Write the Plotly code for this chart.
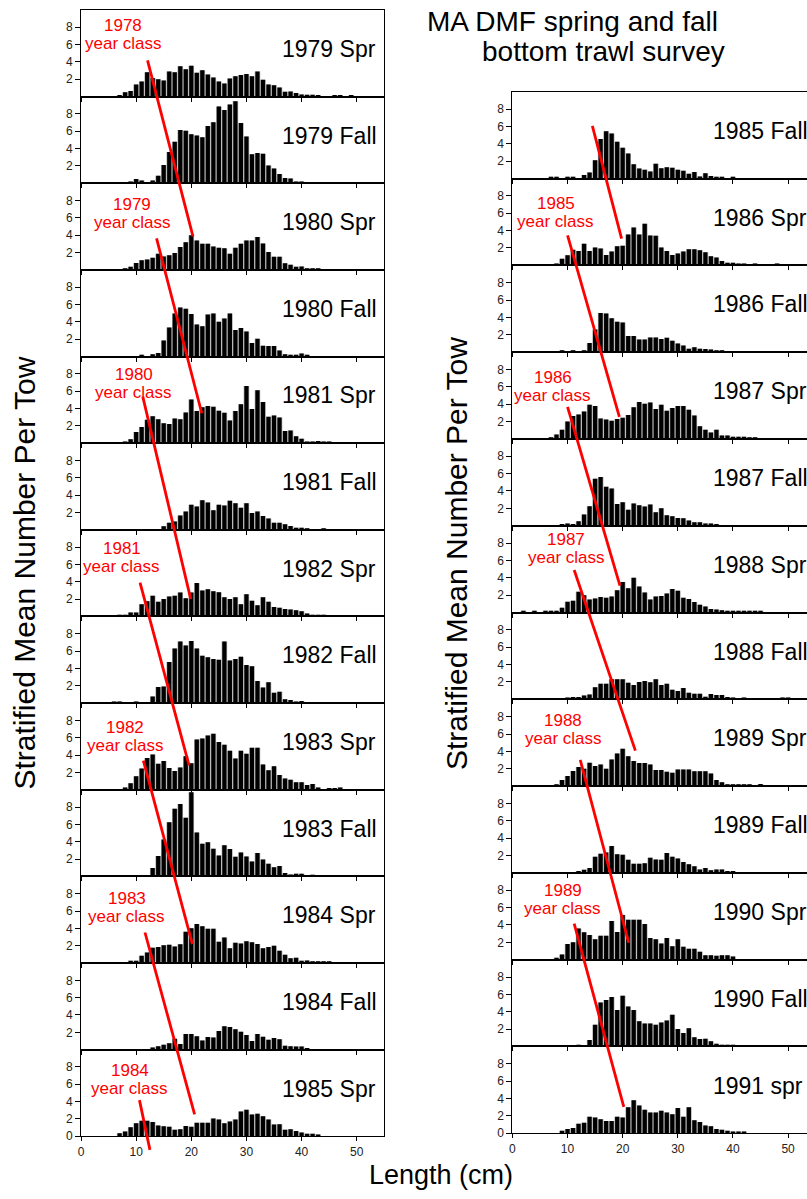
import plotly.graph_objects as go

W, H = 807, 1199

# ---------------- data ----------------
left_labels = ["1979 Spr", "1979 Fall", "1980 Spr", "1980 Fall", "1981 Spr", "1981 Fall",
               "1982 Spr", "1982 Fall", "1983 Spr", "1983 Fall", "1984 Spr", "1984 Fall", "1985 Spr"]
right_labels = ["1985 Fall", "1986 Spr", "1986 Fall", "1987 Spr", "1987 Fall", "1988 Spr",
                "1988 Fall", "1989 Spr", "1989 Fall", "1990 Spr", "1990 Fall", "1991 spr"]

# each series: first length class (cm), then values for consecutive 1-cm classes
spr1979 = (7, [0.15, 0.5, 0.65, 1.4, 1.75, 2.8, 2.15, 2.0, 1.85, 2.9, 2.8, 3.5, 3.15, 3.55, 2.75, 3.05, 2.55,
               2.2, 1.75, 1.5, 2.1, 2.35, 2.5, 2.6, 2.35, 2.9, 1.95, 1.4, 1.3, 1.05, 0.55, 0.6, 0.4, 0.25,
               0.2, 0.2, 0.15, 0.05, 0, 0.1, 0.1, 0, 0.1])
fall1979 = (9, [0.2, 0.5, 0.3, 0, 0.3, 0.85, 2.1, 3.6, 4.8, 6.15, 6.05, 5.65, 5.5, 5.3, 6.6, 7.05, 8.85, 8.45,
                9.1, 9.45, 6.95, 5.4, 3.35, 3.5, 3.4, 2.05, 1.7, 1.05, 0.6, 0.55, 0.15, 0.15])
spr1980 = (8, [0.2, 0.35, 0.8, 1.1, 1.2, 1.4, 1.85, 1.55, 1.7, 1.95, 2.65, 3.2, 4.0, 3.4, 3.0, 3.0, 2.7, 2.55,
               2.5, 1.85, 2.55, 3.0, 3.4, 3.4, 3.8, 3.05, 2.05, 1.5, 1.5, 0.75, 0.6, 0.35, 0.4, 0.2, 0.15, 0.1])
fall1980 = (11, [0.1, 0, 0.25, 0.4, 1.85, 3.35, 4.95, 5.65, 5.5, 4.9, 3.7, 3.5, 4.85, 4.95, 4.0, 4.4, 4.95,
                 3.05, 3.3, 2.9, 1.55, 2.05, 1.25, 1.2, 1.2, 0.7, 0.25, 0.15, 0.15, 0.35, 0.15])
spr1981 = (8, [0.1, 0.45, 1.3, 1.85, 2.7, 3.1, 2.75, 2.3, 2.2, 2.85, 2.75, 3.55, 5.05, 3.7, 4.15, 4.3, 4.2,
               3.75, 3.5, 2.6, 3.7, 4.5, 6.6, 3.95, 6.1, 4.75, 3.05, 3.2, 2.95, 1.4, 1.45, 0.8, 0.5, 0.1,
               0.1, 0.25, 0.2, 0.1])
fall1981 = (15, [0.4, 0.8, 0.95, 1.65, 2.1, 2.9, 2.7, 3.4, 3.15, 2.25, 2.9, 2.8, 3.35, 3.05, 2.55, 3.05, 1.95,
                 2.1, 1.6, 1.3, 0.8, 0.8, 0.65, 0.45, 0.25, 0.25, 0.15, 0, 0, 0.15])
spr1982 = (7, [0.1, 0.1, 0.45, 0.45, 1.4, 1.75, 2.4, 1.7, 2.0, 2.3, 2.4, 2.75, 2.1, 2.75, 3.85, 3.0, 3.15, 2.9,
               2.8, 2.2, 2.0, 2.2, 1.4, 2.55, 1.8, 1.3, 2.2, 1.7, 1.1, 1.0, 0.85, 0.8, 0.7, 0.6, 0.35, 0.2,
               0.2, 0.1])
fall1982 = (6, [0.15, 0.15, 0, 0, 0.1, 0, 0, 0.75, 1.85, 1.9, 4.75, 6.3, 7.1, 6.65, 7.15, 6.3, 5.45, 5.3, 5.1,
                5.0, 7.1, 4.9, 5.1, 5.35, 4.4, 4.25, 2.55, 1.8, 2.4, 1.2, 1.3, 0.45, 0.35, 0.15, 0.25, 0, 0,
                0, 0, 0, 0, 0.05])
spr1983 = (8, [0.25, 0.75, 1.55, 2.45, 3.65, 4.05, 3.0, 3.3, 2.5, 2.15, 2.55, 3.85, 3.05, 5.8, 5.9, 6.25, 6.45,
               5.5, 5.2, 4.5, 3.6, 4.5, 4.15, 4.85, 4.85, 2.9, 2.25, 2.7, 1.7, 1.3, 1.15, 0.85, 0.85, 0.55,
               0.65, 0.25, 0, 0.2, 0.2, 0.25])
fall1983 = (13, [0.95, 2.35, 4.25, 6.25, 7.8, 8.35, 6.75, 9.7, 5.05, 3.75, 3.95, 3.2, 2.4, 3.6, 3.15, 2.25,
                 2.75, 2.3, 1.7, 2.7, 1.95, 1.45, 1.05, 1.2, 0.4, 0.2, 0.3, 0.3, 0, 0.1])
spr1984 = (9, [0.25, 0.25, 0.85, 1.2, 1.75, 1.85, 2.05, 2.1, 1.9, 2.15, 3.6, 4.0, 4.5, 4.25, 3.95, 3.95, 2.45,
               2.95, 1.7, 2.35, 2.25, 2.5, 2.4, 2.2, 1.7, 1.85, 2.0, 1.4, 0.95, 0.55, 0.6, 0.25, 0.3, 0.15,
               0.15, 0.15, 0.15])
fall1984 = (13, [0.25, 0.4, 0.55, 0.75, 1.25, 0.65, 1.8, 1.8, 1.55, 1.05, 1.45, 1.4, 2.15, 2.7, 2.6, 2.35,
                 2.05, 1.7, 1.0, 1.8, 1.5, 1.15, 1.35, 1.2, 0.45, 0.4, 0.35, 0.35, 0.1])
spr1985 = (7, [0.35, 0.55, 1.05, 1.5, 1.8, 1.8, 1.65, 1.25, 1.15, 1.1, 0.75, 0.8, 1.2, 1.1, 1.55, 1.55, 1.55,
               2.05, 1.95, 1.5, 1.7, 1.95, 2.85, 3.05, 2.5, 2.6, 2.3, 1.95, 1.35, 1.4, 0.75, 0.8, 0.6, 0.45,
               0.3, 0.3, 0.2])

fall1985 = (7, [0.1, 0.1, 0, 0.1, 0.1, 0, 0.4, 0.7, 2.1, 4.55, 5.45, 5.2, 4.25, 3.55, 2.9, 1.65, 1.15, 1.0,
                0.8, 1.7, 1.2, 1.3, 1.25, 1.0, 0.9, 0.55, 0.75, 0.25, 0.6, 0.3, 0.15, 0.15, 0, 0.15])
spr1986 = (8, [0.1, 0.75, 1.15, 1.8, 1.65, 2.5, 1.65, 2.05, 1.95, 1.2, 1.6, 2.2, 2.25, 3.55, 4.35, 3.55, 4.8,
               3.45, 3.4, 2.05, 1.65, 1.2, 1.35, 1.6, 1.85, 1.85, 1.75, 1.5, 1.05, 0.9, 0.5, 0.3, 0.3, 0.2,
               0.1, 0, 0.1, 0, 0, 0, 0.1])
fall1986 = (9, [0.1, 0, 0.15, 0, 0.2, 1.05, 2.6, 4.5, 4.45, 3.9, 3.5, 3.4, 1.85, 1.85, 1.45, 1.45, 1.7, 1.7,
                1.5, 1.65, 1.3, 1.0, 0.75, 0.4, 0.55, 0.4, 0.35, 0.3, 0.2, 0.15])
spr1987 = (7, [0.1, 0.5, 1.05, 2.0, 2.65, 2.8, 3.15, 3.95, 3.8, 2.35, 2.25, 2.1, 2.3, 2.45, 2.75, 3.65, 4.25,
               4.05, 4.2, 3.45, 3.95, 3.25, 3.55, 3.8, 3.8, 3.35, 2.7, 1.45, 1.05, 0.75, 1.05, 0.4, 0.4, 0.25,
               0.25, 0.25, 0.15, 0.15])
fall1987 = (9, [0.15, 0.25, 0.2, 0.5, 1.3, 2.25, 5.4, 5.6, 4.5, 4.3, 2.5, 2.7, 1.85, 2.55, 2.35, 2.2, 2.45,
                1.55, 2.0, 1.2, 1.1, 0.9, 0.85, 0.6, 0.4, 0.4, 0.25, 0.25, 0.1])
spr1988 = (2, [0.1, 0, 0.1, 0, 0.1, 0.1, 0.2, 0.55, 1.25, 1.35, 2.4, 2.0, 1.5, 1.6, 1.8, 1.7, 1.85, 2.55, 3.5,
               2.8, 4.0, 3.0, 2.3, 1.5, 1.85, 1.9, 2.2, 2.7, 2.5, 1.7, 1.55, 1.2, 0.9, 0.7, 0.4, 0.35, 0.25,
               0.2, 0.2, 0.15, 0.1, 0.1, 0.1, 0.1])
fall1988 = (10, [0.2, 0.25, 0.25, 0.45, 0.55, 1.4, 1.8, 1.8, 2.3, 2.3, 2.3, 1.9, 1.65, 2.0, 2.1, 1.95, 2.3,
                 1.65, 1.8, 1.1, 0.95, 1.3, 0.75, 0.65, 0.65, 0.3, 0.6, 0.5, 0.5, 0.25, 0.15, 0, 0.15, 0, 0,
                 0, 0, 0, 0, 0.2, 0.2])
spr1989 = (8, [0.1, 0.7, 1.15, 1.75, 2.2, 2.0, 2.7, 2.3, 2.5, 2.0, 3.05, 3.75, 4.3, 3.45, 2.9, 2.65, 2.65, 2.5,
               1.85, 1.85, 1.65, 1.55, 1.9, 1.9, 1.9, 1.7, 1.7, 1.7, 1.45, 0.7, 0.45, 0.2, 0.2, 0.15, 0.2,
               0.1, 0, 0.25])
fall1989 = (12, [0.1, 0.35, 0.55, 1.85, 2.2, 2.35, 3.1, 2.15, 2.1, 1.5, 1.05, 1.05, 1.1, 1.75, 1.55, 1.5, 2.3,
                 1.85, 1.65, 1.25, 1.0, 0.75, 0.4, 0.55, 0.3, 0.4, 0.4, 0.15, 0.1])
spr1990 = (8, [0.2, 0.6, 1.8, 2.0, 3.6, 3.15, 2.85, 2.35, 2.75, 2.75, 4.45, 3.2, 5.15, 4.6, 4.6, 4.6, 4.1, 2.5,
               2.35, 1.85, 2.5, 1.55, 2.35, 1.5, 1.25, 1.25, 0.9, 0.5, 0.5, 0.45, 0.5, 0.5, 0.35])
fall1990 = (12, [0.1, 0, 0.75, 2.5, 5.05, 5.35, 5.7, 4.2, 5.85, 4.6, 4.2, 2.9, 2.65, 2.65, 2.5, 2.75, 3.0, 3.65,
                 2.0, 1.55, 2.1, 1.05, 0.85, 0.9, 0.6, 0.3, 0.2, 0.2, 0.1])
spr1991 = (9, [0.3, 0.5, 0.6, 1.1, 1.2, 1.9, 1.8, 1.6, 1.4, 1.4, 1.9, 1.8, 3.0, 3.8, 3.2, 2.7, 2.4, 2.4, 2.6,
               2.4, 2.2, 2.9, 1.9, 3.0, 1.5, 1.3, 0.9, 0.8, 0.5, 0.4, 0.3, 0.2, 0.2, 0.1])

left_series = [spr1979, fall1979, spr1980, fall1980, spr1981, fall1981, spr1982, fall1982,
               spr1983, fall1983, spr1984, fall1984, spr1985]
right_series = [fall1985, spr1986, fall1986, spr1987, fall1987, spr1988, fall1988, spr1989,
                fall1989, spr1990, fall1990, spr1991]

x_ticks = [0, 10, 20, 30, 40, 50]

# year-class cohort lines: (column, start panel, start length, start value, end panel, end length, end value)
cohort_lines = [
    (0, 0, 12.06, 4.17, 2, 20.3, 3.87),
    (0, 2, 13.7, 3.64, 4, 21.9, 3.45),
    (0, 4, 11.2, 5.37, 6, 19.9, 2.0),
    (0, 6, 10.7, 3.9, 8, 19.6, 2.8),
    (0, 8, 11.3, 3.37, 10, 20.2, 2.18),
    (0, 10, 11.6, 3.52, 12, 20.6, 2.53),
    (0, 12, 10.6, 4.17, 12, 12.5, -1.57),
    (1, 0, 14.5, 6.06, 1, 19.8, 3.08),
    (1, 1, 10.0, 3.46, 3, 19.4, 2.54),
    (1, 3, 10.0, 3.69, 5, 19.5, 3.1),
    (1, 5, 11.2, 4.9, 7, 22.3, 4.09),
    (1, 7, 12.3, 3.02, 9, 21.1, 1.95),
    (1, 9, 11.2, 4.16, 11, 20.2, 3.05),
]
# year-class labels: (column, panel, length, value, year)
cohort_labels = [
    (0, 0, 7.67, 7.16, "1978"), (0, 2, 9.26, 6.53, "1979"), (0, 4, 9.53, 6.84, "1980"),
    (0, 6, 7.42, 6.8, "1981"), (0, 8, 7.99, 6.15, "1982"), (0, 10, 8.32, 6.38, "1983"),
    (0, 12, 8.8, 6.57, "1984"),
    (1, 1, 7.83, 6.04, "1985"), (1, 3, 7.35, 6.09, "1986"), (1, 5, 9.75, 7.38, "1987"),
    (1, 7, 9.24, 6.47, "1988"), (1, 9, 9.15, 6.9, "1989"),
]

# ---------------- layout geometry (pixels) ----------------
PX_CM = 5.535
COLS = [
    dict(x0=78.3, top=10.0, ph=87.15, xmax=55.0, labels=left_labels, series=left_series, mirror_y=True),
    dict(x0=511.3, top=92.3, ph=87.3, xmax=(W - 511.3) / PX_CM, labels=right_labels, series=right_series,
         mirror_y=False),
]
YMAX = 10.0
FONT = "Liberation Sans, Arial, sans-serif"


def to_paper(col, row, xv, yv):
    c = COLS[col]
    px = c["x0"] + xv * PX_CM
    py = c["top"] + (row + 1) * c["ph"] - yv * c["ph"] / YMAX
    return px / W, 1 - py / H


fig = go.Figure()
layout = dict(
    width=W, height=H, margin=dict(l=0, r=0, t=0, b=0),
    paper_bgcolor="white", plot_bgcolor="white", showlegend=False,
    font=dict(family=FONT, color="#222222"), barmode="overlay",
)
annotations = []
shapes = []

n = 0
for ci, c in enumerate(COLS):
    nrows = len(c["series"])
    for r, (start, vals) in enumerate(c["series"]):
        n += 1
        xs = [start + i for i in range(len(vals))]
        xa = "x" if n == 1 else f"x{n}"
        ya = "y" if n == 1 else f"y{n}"
        # soft grey edge under each bar (anti-aliased look of the original), then the black bar
        fig.add_trace(go.Bar(x=xs, y=vals, xaxis=xa, yaxis=ya, width=1.0, hoverinfo="skip",
                             marker=dict(color="#a6a6a6", line=dict(width=0))))
        fig.add_trace(go.Bar(x=xs, y=vals, xaxis=xa, yaxis=ya, width=0.76,
                             marker=dict(color="black", line=dict(width=0))))
        last = r == nrows - 1
        top_px = c["top"] + r * c["ph"]
        bot_px = top_px + c["ph"]
        right_px = min(W, c["x0"] + c["xmax"] * PX_CM)
        layout["xaxis" if n == 1 else f"xaxis{n}"] = dict(
            domain=[c["x0"] / W, right_px / W], range=[0, c["xmax"]], anchor=ya,
            showline=True, linecolor="black", linewidth=1, mirror=True,
            ticks="outside", ticklen=4, tickcolor="black", tickvals=x_ticks,
            showticklabels=last, tickfont=dict(size=12, color="#222"),
            showgrid=False, zeroline=False, fixedrange=True,
        )
        layout["yaxis" if n == 1 else f"yaxis{n}"] = dict(
            domain=[1 - bot_px / H, 1 - top_px / H], range=[0, YMAX], anchor=xa,
            showline=True, linecolor="black", linewidth=1, mirror=c["mirror_y"],
            ticks="outside", ticklen=5, tickcolor="black",
            tickvals=[0, 2, 4, 6, 8] if last else [2, 4, 6, 8],
            tickfont=dict(size=12, color="#222"),
            showgrid=False, zeroline=False, fixedrange=True,
        )
        annotations.append(dict(text=c["labels"][r], xref=xa, yref=ya, x=36.1, y=5.5,
                                xanchor="left", yanchor="middle", showarrow=False,
                                font=dict(size=23, color="black", family=FONT)))

# cohort lines
for (col, r0, x0, y0, r1, x1, y1) in cohort_lines:
    px0, py0 = to_paper(col, r0, x0, y0)
    px1, py1 = to_paper(col, r1, x1, y1)
    shapes.append(dict(type="line", xref="paper", yref="paper", x0=px0, y0=py0, x1=px1, y1=py1,
                       line=dict(color="#ff0000", width=2.8), layer="above"))

# cohort labels
for (col, r, xv, yv, yr) in cohort_labels:
    px, py = to_paper(col, r, xv, yv)
    annotations.append(dict(text=yr, xref="paper", yref="paper", x=px, y=py, yshift=9,
                            xanchor="center", yanchor="middle", showarrow=False,
                            font=dict(size=17, color="#ff0000", family=FONT)))
    annotations.append(dict(text="year class", xref="paper", yref="paper", x=px, y=py, yshift=-9,
                            xanchor="center", yanchor="middle", showarrow=False,
                            font=dict(size=17, color="#ff0000", family=FONT)))

# titles
annotations.append(dict(text="MA DMF spring and fall", xref="paper", yref="paper",
                        x=572 / W, y=1 - 22 / H, xanchor="center", yanchor="middle", showarrow=False,
                        font=dict(size=28, color="black", family=FONT)))
annotations.append(dict(text="bottom trawl survey", xref="paper", yref="paper",
                        x=603 / W, y=1 - 52 / H, xanchor="center", yanchor="middle", showarrow=False,
                        font=dict(size=28, color="black", family=FONT)))
for (xp, yp) in [(22, 576), (455, 557)]:
    annotations.append(dict(text="Stratified Mean Number Per Tow", xref="paper", yref="paper",
                            x=xp / W, y=1 - yp / H, xanchor="center", yanchor="middle", textangle=-90,
                            showarrow=False, font=dict(size=30, color="black", family=FONT)))
annotations.append(dict(text="Length (cm)", xref="paper", yref="paper", x=440 / W, y=1 - 1182 / H,
                        xanchor="center", yanchor="middle", showarrow=False,
                        font=dict(size=27, color="black", family=FONT)))

layout["annotations"] = annotations
layout["shapes"] = shapes
fig.update_layout(**layout)
fig.write_html("out.html", config={"displayModeBar": False},
               post_script="document.body.style.margin='0';")
